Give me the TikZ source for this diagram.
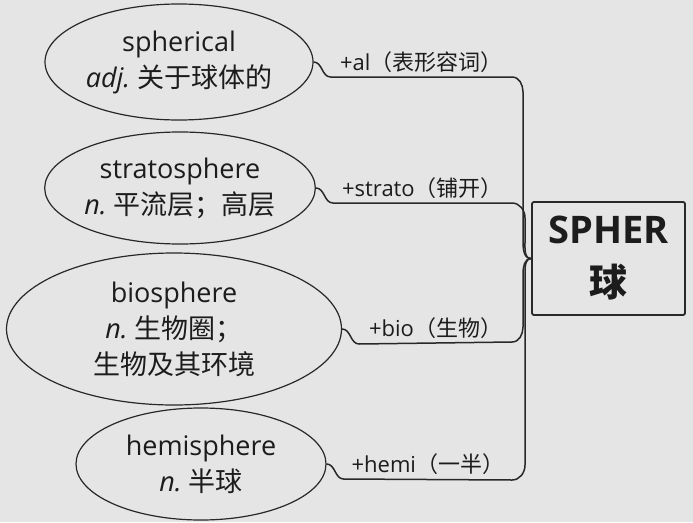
\documentclass[tikz,border=0pt]{standalone}
\usepackage{fontspec}
\setmainfont{Open Sans}
\newfontfamily\cjk{Noto Sans CJK SC}
\usetikzlibrary{shapes.geometric}
\definecolor{paper}{RGB}{229,229,229}
\definecolor{ink}{RGB}{28,28,28}
\definecolor{wire}{RGB}{40,40,40}

\begin{document}
\begin{tikzpicture}[x=1pt, y=1pt, text=ink,
  word/.style={ellipse, draw=wire, line width=1.2pt, inner sep=0pt, align=center,
    font=\fontsize{27}{36}\selectfont},
  link/.style={draw=wire, line width=1.5pt},
  affix/.style={midway, above, inner sep=4pt, font=\fontsize{22}{24}\selectfont}]
\fill[paper] (0,0) rectangle (693,-522);
\useasboundingbox (0,0) rectangle (693,-522);

\node[draw=wire, line width=1.8pt, rounded corners=2pt, minimum width=153, minimum height=113,
  align=center, font=\fontsize{38}{53}\selectfont\bfseries] (root) at (608.5,-258.5)
  {SPHER\\{\cjk 球}};

\node[word, minimum width=268, minimum height=116] (sph) at (179,-62)
  {spherical\\\textit{adj.}\ {\cjk 关于球体的}};
\node[word, minimum width=270, minimum height=112] (str) at (180,-188)
  {stratosphere\\\textit{n.}\ {\cjk 平流层；高层}};
\node[word, minimum width=335, minimum height=152] (bio) at (174,-329)
  {biosphere\\\textit{n.}\ {\cjk 生物圈；}\\{\cjk 生物及其环境}};
\node[word, minimum width=250, minimum height=112] (hem) at (201,-464)
  {hemisphere\\\textit{n.}\ {\cjk 半球}};

% each branch dips under its label, then bends into the brace
\draw[link] (sph.east) to[out=0,in=180] ++(17,-15)
  -- node[affix] {+al{\cjk （表形容词）}} (512,-77)
  to[out=0,in=90] (523,-92) -- (523,-240) to[out=-90,in=180] (root.west);
\draw[link] (str.east) to[out=0,in=180] ++(17,-15)
  -- node[affix] {+strato{\cjk （铺开）}} (512,-203)
  to[out=0,in=90] (525,-218) -- (525,-242) to[out=-90,in=180] (root.west);
\draw[link] (bio.east) to[out=0,in=180] ++(17,-15)
  -- node[affix] {+bio{\cjk （生物）}} (512,-342)
  to[out=0,in=-90] (523,-327) -- (523,-274) to[out=90,in=180] (root.west);
\draw[link] (hem.east) to[out=0,in=180] ++(17,-15)
  -- node[affix] {+hemi{\cjk （一半）}} (512,-480)
  to[out=0,in=-90] (525,-465) -- (525,-272) to[out=90,in=180] (root.west);
\end{tikzpicture}
\end{document}
